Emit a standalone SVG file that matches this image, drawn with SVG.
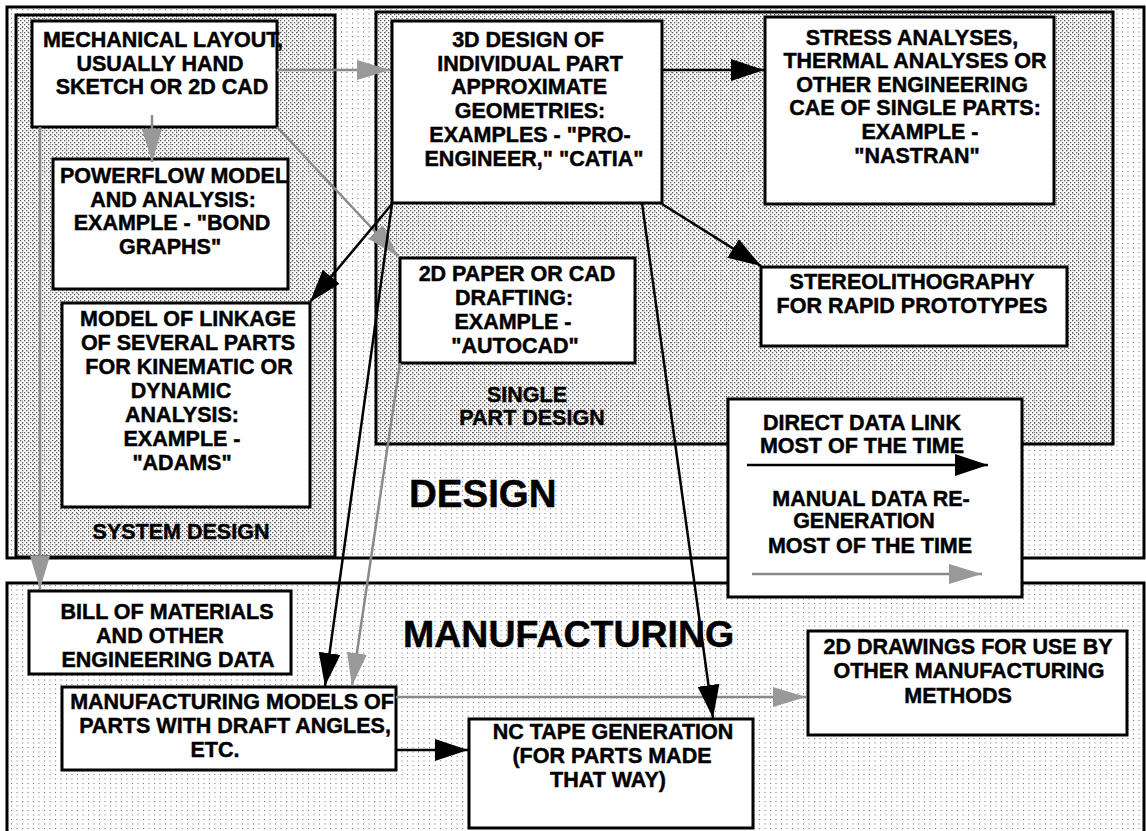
<svg xmlns="http://www.w3.org/2000/svg" width="1146" height="831" viewBox="0 0 1146 831">
<defs>
<pattern id="sparse" patternUnits="userSpaceOnUse" width="5.5" height="4.5"><rect x="0" y="0" width="1" height="1" fill="#6a6a6a"/></pattern>
<pattern id="dense" patternUnits="userSpaceOnUse" width="4" height="4"><rect x="0" y="0" width="1.3" height="1.3" fill="#5a5a5a"/><rect x="2" y="2" width="1.3" height="1.3" fill="#5a5a5a"/></pattern>
<marker id="ab" markerUnits="userSpaceOnUse" markerWidth="34" markerHeight="24" viewBox="0 0 34 24" refX="33" refY="12" orient="auto"><path d="M0,1 L33,12 L0,23 z" fill="#000"/></marker>
<marker id="ag" markerUnits="userSpaceOnUse" markerWidth="34" markerHeight="24" viewBox="0 0 34 24" refX="33" refY="12" orient="auto"><path d="M0,2 L33,12 L0,22 z" fill="#999"/></marker>
</defs>
<style>
.frame{stroke:#000;stroke-width:3}
.box{fill:#fff;stroke:#000;stroke-width:3}
text{font-family:"Liberation Sans",Arial,sans-serif;font-weight:bold;fill:#000;stroke:#000;stroke-width:0.45}
.t{font-size:21.5px;text-anchor:middle}
.big{font-size:38.5px}
.blk{stroke:#000;stroke-width:2.5;fill:none;marker-end:url(#ab)}
.gry{stroke:#8a8a8a;stroke-width:2.5;fill:none;marker-end:url(#ag)}
</style>
<rect width="1146" height="831" fill="#fff"/>
<g id="frames">
<rect id="design-frame" class="frame" x="7" y="7" width="1137" height="551" fill="url(#sparse)"/>
<rect id="system-design-frame" class="frame" x="16" y="15" width="319" height="542" fill="url(#dense)"/>
<rect id="single-part-frame" class="frame" x="376" y="12" width="737" height="432" fill="url(#dense)"/>
<rect id="manufacturing-frame" class="frame" x="7" y="583" width="1137" height="262" fill="url(#sparse)"/>
<text class="t" x="181" y="539">SYSTEM DESIGN</text>
<text class="t" x="527" y="402">SINGLE</text>
<text class="t" x="532" y="425">PART DESIGN</text>
<text class="big" x="409" y="507">DESIGN</text>
<text class="big" x="403" y="647" style="font-size:37.5px">MANUFACTURING</text>
</g>
<g id="mechanical-layout">
<rect class="box" x="32" y="21" width="245" height="106"/>
<text class="t" x="163" y="47">MECHANICAL LAYOUT,</text>
<text class="t" x="160" y="71">USUALLY HAND</text>
<text class="t" x="162" y="94">SKETCH OR 2D CAD</text>
</g>
<g id="powerflow">
<rect class="box" x="53" y="159" width="235" height="130"/>
<text class="t" x="174" y="183">POWERFLOW MODEL</text>
<text class="t" x="173" y="206.5">AND ANALYSIS:</text>
<text class="t" x="172" y="230">EXAMPLE - "BOND</text>
<text class="t" x="170" y="253.5">GRAPHS"</text>
</g>
<g id="linkage">
<rect class="box" x="62" y="303" width="248" height="204"/>
<text class="t" x="188" y="326">MODEL OF LINKAGE</text>
<text class="t" x="188" y="350">OF SEVERAL PARTS</text>
<text class="t" x="189" y="374">FOR KINEMATIC OR</text>
<text class="t" x="181" y="398">DYNAMIC</text>
<text class="t" x="182" y="422">ANALYSIS:</text>
<text class="t" x="182" y="446">EXAMPLE -</text>
<text class="t" x="182" y="470">"ADAMS"</text>
</g>
<g id="design-3d">
<rect class="box" x="392" y="21" width="270" height="182"/>
<text class="t" x="528" y="47">3D DESIGN OF</text>
<text class="t" x="530" y="71">INDIVIDUAL PART</text>
<text class="t" x="529" y="94">APPROXIMATE</text>
<text class="t" x="530" y="118">GEOMETRIES:</text>
<text class="t" x="530" y="142">EXAMPLES - "PRO-</text>
<text class="t" x="534" y="166">ENGINEER," "CATIA"</text>
</g>
<g id="stress">
<rect class="box" x="765" y="17" width="289" height="187"/>
<text class="t" x="912" y="45">STRESS ANALYSES,</text>
<text class="t" x="915" y="68">THERMAL ANALYSES OR</text>
<text class="t" x="912" y="92">OTHER ENGINEERING</text>
<text class="t" x="915" y="115">CAE OF SINGLE PARTS:</text>
<text class="t" x="920" y="139">EXAMPLE -</text>
<text class="t" x="917" y="163">"NASTRAN"</text>
</g>
<g id="stereolithography">
<rect class="box" x="761" y="267" width="306" height="79"/>
<text class="t" x="912" y="289">STEREOLITHOGRAPHY</text>
<text class="t" x="912" y="313">FOR RAPID PROTOTYPES</text>
</g>
<g id="drafting-2d">
<rect class="box" x="400" y="258" width="235" height="105"/>
<text class="t" x="517" y="281">2D PAPER OR CAD</text>
<text class="t" x="514" y="305">DRAFTING:</text>
<text class="t" x="513" y="329">EXAMPLE -</text>
<text class="t" x="515" y="353">"AUTOCAD"</text>
</g>
<g id="bill-of-materials">
<rect class="box" x="29" y="591" width="262" height="83"/>
<text class="t" x="167" y="619">BILL OF MATERIALS</text>
<text class="t" x="160" y="643">AND OTHER</text>
<text class="t" x="168" y="667">ENGINEERING DATA</text>
</g>
<g id="manufacturing-models">
<rect class="box" x="62" y="687" width="334" height="83"/>
<text class="t" x="232" y="709">MANUFACTURING MODELS OF</text>
<text class="t" x="235" y="733">PARTS WITH DRAFT ANGLES,</text>
<text class="t" x="215" y="757">ETC.</text>
</g>
<g id="nc-tape">
<rect class="box" x="469" y="719" width="284" height="109"/>
<text class="t" x="613" y="739">NC TAPE GENERATION</text>
<text class="t" x="612" y="763">(FOR PARTS MADE</text>
<text class="t" x="608" y="787">THAT WAY)</text>
</g>
<g id="drawings-2d">
<rect class="box" x="808" y="631" width="319" height="104"/>
<text class="t" x="968" y="654">2D DRAWINGS FOR USE BY</text>
<text class="t" x="969" y="678">OTHER MANUFACTURING</text>
<text class="t" x="958" y="703">METHODS</text>
</g>
<g id="legend">
<rect class="box" x="728" y="399" width="294" height="198"/>
<text class="t" x="862" y="430">DIRECT DATA LINK</text>
<text class="t" x="862" y="453">MOST OF THE TIME</text>
<line class="blk" x1="747" y1="465" x2="988" y2="465"/>
<text class="t" x="871" y="506">MANUAL DATA RE-</text>
<text class="t" x="864" y="528">GENERATION</text>
<text class="t" x="870" y="553">MOST OF THE TIME</text>
<line class="gry" x1="752" y1="574" x2="982" y2="574"/>
</g>
<g id="connectors">
<line class="gry" x1="277" y1="70" x2="390" y2="70"/>
<line class="gry" x1="152" y1="115" x2="152" y2="162"/>
<line class="gry" x1="40" y1="127" x2="40" y2="589"/>
<line class="gry" x1="277" y1="127" x2="398" y2="256"/>
<line class="gry" x1="400" y1="363" x2="352" y2="686"/>
<line class="gry" x1="396" y1="697" x2="806" y2="697"/>
<line class="blk" x1="662" y1="70" x2="764" y2="70"/>
<line class="blk" x1="662" y1="204" x2="761" y2="266"/>
<line class="blk" x1="392" y1="204" x2="310" y2="302"/>
<line class="blk" x1="392" y1="204" x2="325" y2="686"/>
<line class="blk" x1="642" y1="203" x2="713" y2="718"/>
<line class="blk" x1="396" y1="750" x2="468" y2="750"/>
</g>
</svg>
